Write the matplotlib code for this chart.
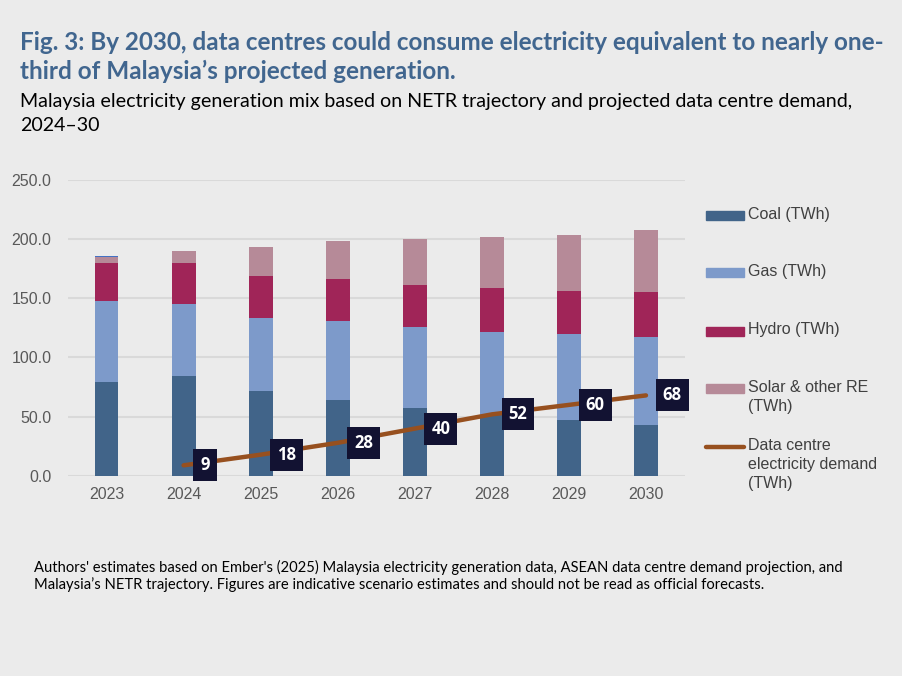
import matplotlib.pyplot as plt
from matplotlib.patches import Rectangle
from matplotlib.lines import Line2D
import numpy as np

# Data (TWh)
years = ['2023', '2024', '2025', '2026', '2027', '2028', '2029', '2030']
coal = [79.3, 84.4, 71.7, 64.1, 57.4, 51.5, 47.2, 43.0]
gas = [68.3, 60.7, 61.6, 66.7, 68.3, 70.0, 72.6, 74.3]
hydro = [32.1, 34.6, 35.4, 35.4, 35.4, 37.1, 36.3, 37.9]
solar = [4.8, 10.1, 24.5, 32.1, 38.9, 43.0, 47.2, 52.3]
other = [0.8, 0, 0, 0, 0, 0, 0, 0]
dc_years = ['2024', '2025', '2026', '2027', '2028', '2029', '2030']
dc_demand = [9, 18, 28, 40, 52, 60, 68]

series = [
    ('Coal (TWh)', coal, '#416489'),
    ('Gas (TWh)', gas, '#7D9ACA'),
    ('Hydro (TWh)', hydro, '#A02558'),
    ('Solar & other RE\n(TWh)', solar, '#B68A98'),
]
line_label = 'Data centre\nelectricity demand\n(TWh)'
line_color = '#97501F'

title_lines = ['Fig. 3: By 2030, data centres could consume electricity equivalent to nearly one-',
               'third of Malaysia\u2019s projected generation.']
subtitle_lines = ['Malaysia electricity generation mix based on NETR trajectory and projected data centre demand,',
                  '2024\u201330']
note_lines = ["Authors' estimates based on Ember's (2025) Malaysia electricity generation data, ASEAN data centre demand projection, and",
              "Malaysia\u2019s NETR trajectory. Figures are indicative scenario estimates and should not be read as official forecasts."]

bg = '#EBEBEB'
txt_font = ['Lato', 'DejaVu Sans']
plt.rcParams['font.family'] = ['Liberation Sans', 'DejaVu Sans']

fig = plt.figure(figsize=(9.02, 6.76), dpi=100, facecolor=bg)
ax = fig.add_axes([68 / 902, 1 - 476 / 676, (684.5 - 68) / 902, (476 - 179.7) / 676])
ax.set_facecolor(bg)

x = np.arange(len(years))
bottom = np.zeros(len(years))
for label, vals, color in series:
    ax.bar(x, vals, width=0.31, bottom=bottom, color=color, zorder=2)
    bottom += np.array(vals)
ax.bar(x, other, width=0.31, bottom=bottom, color='#4472C4', zorder=2)

xl = [years.index(y) for y in dc_years]
ax.plot(xl, dc_demand, color=line_color, lw=3.2, solid_capstyle='round', zorder=3)
for xi, v in zip(xl, dc_demand):
    ax.annotate(str(v), (xi, v), xytext=(12, 0), textcoords='offset points',
                ha='left', va='center', color='white', fontsize=12, fontweight='bold',
                family=['Open Sans', 'DejaVu Sans'], zorder=4,
                bbox=dict(boxstyle='square,pad=0.42', fc='#121232', ec='none'))

ax.set_ylim(0, 250)
ax.set_xlim(-0.5, len(years) - 0.5)
ax.set_yticks(np.arange(0, 251, 50))
ax.set_yticklabels([f'{v:.1f}' for v in np.arange(0, 251, 50)])
ax.set_xticks(x)
ax.set_xticklabels(years)
ax.tick_params(length=0, labelsize=11.5, labelcolor='#595959')
ax.tick_params(axis='y', pad=12)
ax.tick_params(axis='x', pad=8)
ax.grid(axis='y', color='#D9D9D9', lw=1.5, zorder=0)
for s in ax.spines.values():
    s.set_visible(False)

# Legend drawn by hand so the handle sits on the first text line
legend_y = [215.7, 272.7, 331, 389]
for (label, vals, color), ly in zip(series, legend_y):
    fig.add_artist(Rectangle((706 / 902, 1 - (ly + 4.5) / 676), 38 / 902, 9 / 676,
                             transform=fig.transFigure, color=color))
    fig.text(748 / 902, 1 - (ly - 9) / 676, label, ha='left', va='top',
             fontsize=11.5, color='#404040', linespacing=1.35)
ly = 447
fig.add_artist(Line2D([706 / 902, 744 / 902], [1 - ly / 676] * 2, transform=fig.transFigure,
                      color=line_color, lw=3.2, solid_capstyle='round'))
fig.text(748 / 902, 1 - (ly - 9) / 676, line_label, ha='left', va='top',
         fontsize=11.5, color='#404040', linespacing=1.35)


# Text blocks: each line at its own baseline, size fitted to the reference width
def text_block(lines, x0, x1, baselines, size, **kw):
    objs = [fig.text(x0 / 902, 1 - b / 676, s, ha='left', va='baseline',
                     fontsize=size, family=txt_font, **kw) for s, b in zip(lines, baselines)]
    r = fig.canvas.get_renderer()
    w = objs[0].get_window_extent(r).width
    for o in objs:
        o.set_fontsize(size * (x1 - x0) / w)


text_block(title_lines, 20, 885, [50, 79], 16, fontweight='bold', color='#41668F')
text_block(subtitle_lines, 20, 847, [107, 131], 13, color='black')
text_block(note_lines, 34, 847, [572, 589], 10.5, color='black')

fig.savefig('out.png', dpi=100, facecolor=bg)
